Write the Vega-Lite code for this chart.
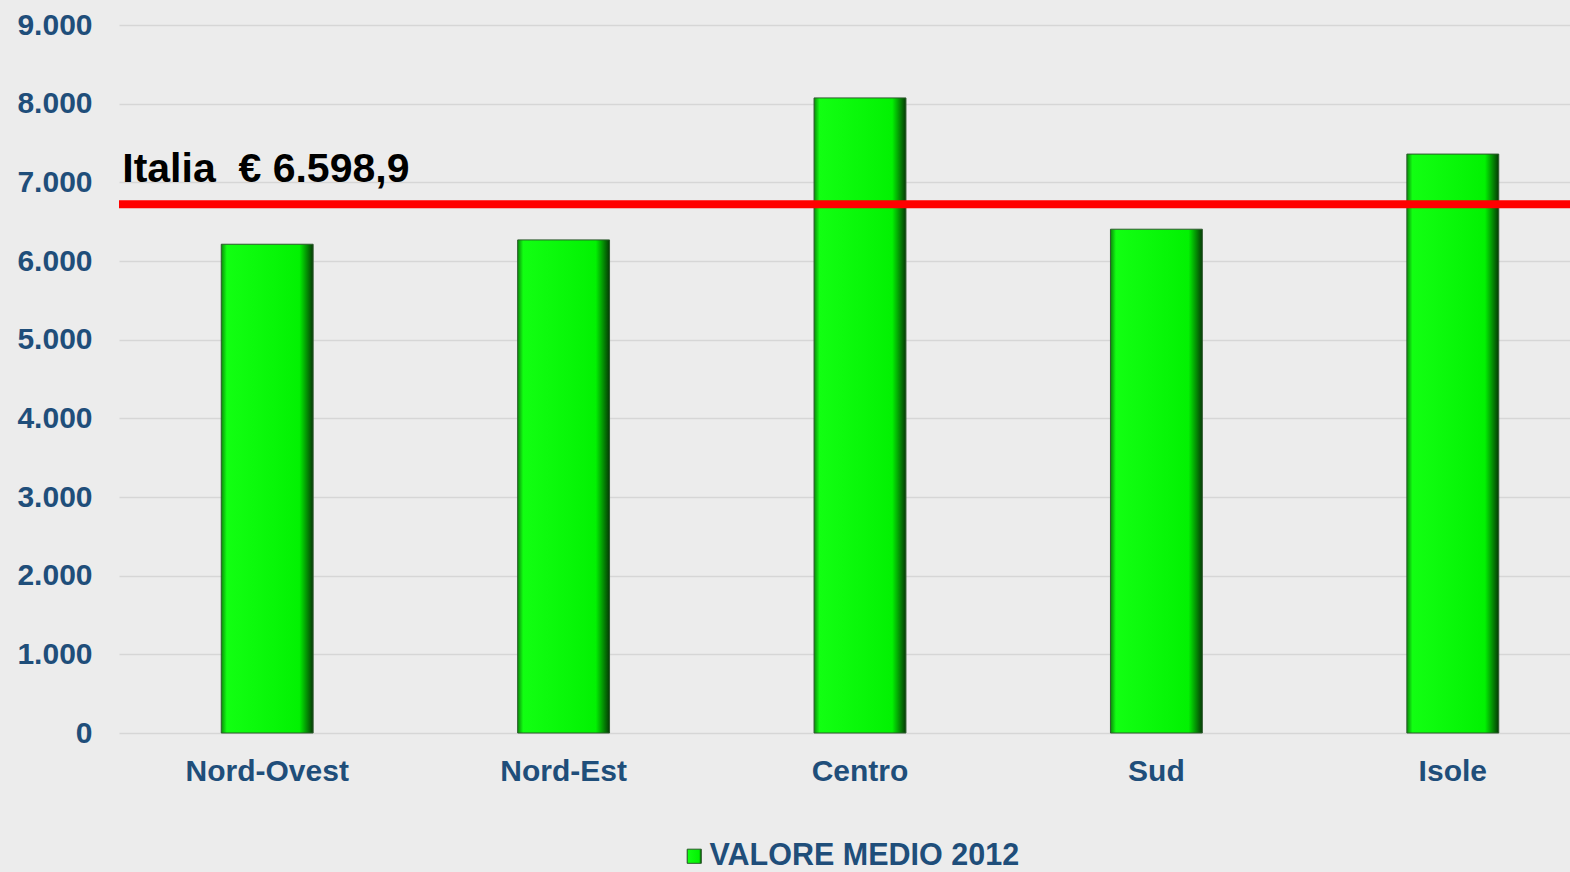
{
  "$schema": "https://vega.github.io/schema/vega-lite/v6.json",
  "autosize": "none",
  "padding": {"left": 119, "top": 25, "right": 0, "bottom": 139},
  "width": 1482,
  "height": 708,
  "background": "#ECECEC",
  "config": {
    "view": {"stroke": null},
    "font": "Liberation Sans",
    "axis": {
      "labelFont": "Liberation Sans",
      "labelFontWeight": "bold",
      "labelColor": "#1F4E7A",
      "labelFontSize": 30,
      "domain": false,
      "ticks": false,
      "title": null
    }
  },
  "datasets": {
    "bars": [
      {"area": "Nord-Ovest", "valore": 6213, "serie": "VALORE MEDIO 2012"},
      {"area": "Nord-Est", "valore": 6268, "serie": "VALORE MEDIO 2012"},
      {"area": "Centro", "valore": 8073, "serie": "VALORE MEDIO 2012"},
      {"area": "Sud", "valore": 6404, "serie": "VALORE MEDIO 2012"},
      {"area": "Isole", "valore": 7359, "serie": "VALORE MEDIO 2012"}
    ],
    "italia": [
      {"area": "Nord-Ovest", "valore": 6720, "etichetta": "Italia\u00a0\u00a0€ 6.598,9"}
    ]
  },
  "layer": [
    {
      "data": {"name": "bars"},
      "mark": {
        "type": "bar",
        "strokeWidth": 1,
        "fill": {
          "gradient": "linear",
          "x1": 0, "y1": 0, "x2": 1, "y2": 0,
          "stops": [
            {"offset": 0, "color": "#0A8A0A"},
            {"offset": 0.06, "color": "#12FF12"},
            {"offset": 0.85, "color": "#02F202"},
            {"offset": 1, "color": "#053A05"}
          ]
        }
      },
      "encoding": {
        "x": {
          "field": "area",
          "type": "nominal",
          "sort": ["Nord-Ovest", "Nord-Est", "Centro", "Sud", "Isole"],
          "scale": {"paddingInner": 0.69, "paddingOuter": 0.345},
          "axis": {"labelAngle": 0, "labelPadding": 23, "grid": false}
        },
        "y": {
          "field": "valore",
          "type": "quantitative",
          "scale": {"domain": [0, 9000], "nice": false},
          "axis": {
            "values": [0, 1000, 2000, 3000, 4000, 5000, 6000, 7000, 8000, 9000],
            "labelExpr": "replace(format(datum.value, ',d'), ',', '.')",
            "labelPadding": 27,
            "grid": true,
            "gridColor": "#D6D6D6",
            "gridWidth": 1.5
          }
        },
        "stroke": {
          "field": "serie",
          "type": "nominal",
          "scale": {"range": ["#2D5A2D"]},
          "legend": {
            "title": null,
            "orient": "none",
            "legendX": 560,
            "legendY": 816,
            "direction": "horizontal",
            "labelFont": "Liberation Sans",
            "labelFontWeight": "bold",
            "labelFontSize": 30.5,
            "labelColor": "#1F4E7A",
            "labelLimit": 0,
            "symbolType": "square",
            "symbolSize": 200,
            "symbolFillColor": "#10E010",
            "symbolStrokeWidth": 1,
            "labelOffset": 0
          }
        }
      }
    },
    {
      "data": {"name": "italia"},
      "mark": {"type": "rule", "color": "#FF0000", "strokeWidth": 8},
      "encoding": {
        "y": {"field": "valore", "type": "quantitative"}
      }
    },
    {
      "data": {"name": "italia"},
      "mark": {
        "type": "text",
        "align": "left",
        "baseline": "alphabetic",
        "fontSize": 41,
        "fontWeight": "bold",
        "font": "Liberation Sans",
        "color": "#000000",
        "dx": -99,
        "dy": -22
      },
      "encoding": {
        "x": {
          "field": "area",
          "type": "nominal",
          "sort": ["Nord-Ovest", "Nord-Est", "Centro", "Sud", "Isole"],
          "bandPosition": 0
        },
        "y": {"field": "valore", "type": "quantitative"},
        "text": {"field": "etichetta"}
      }
    }
  ]
}
